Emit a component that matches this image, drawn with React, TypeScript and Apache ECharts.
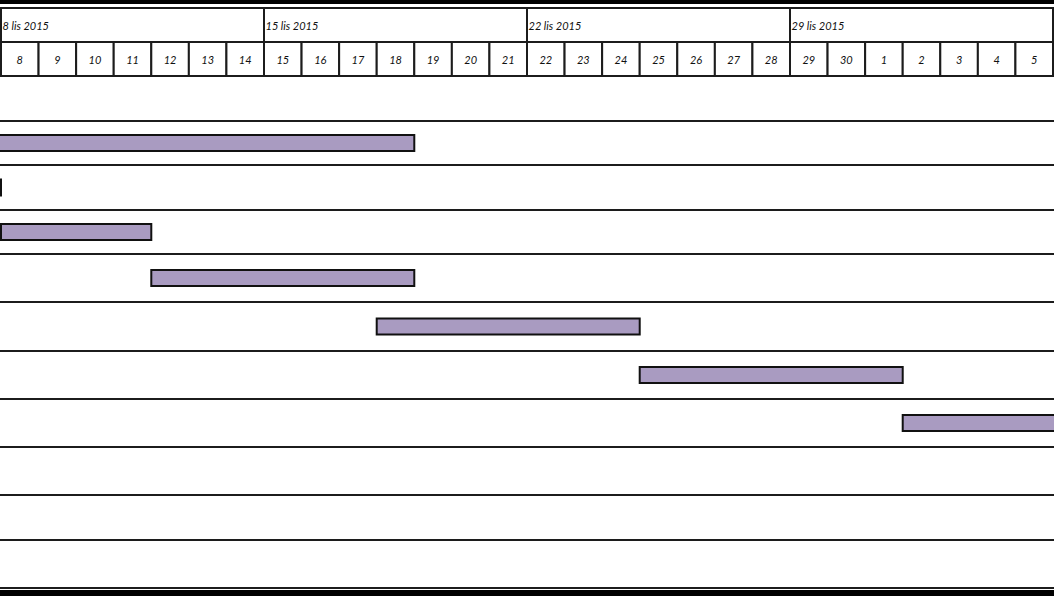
import React, { useEffect, useRef } from "react";
import * as echarts from "echarts";

// ---- data ----
const rangeStartDate = "2015-11-08";
const rangeEndDate = "2015-12-06";
const weekStarts = ["2015-11-08", "2015-11-15", "2015-11-22", "2015-11-29"];
const weekLabels = ["8 lis 2015", "15 lis 2015", "22 lis 2015", "29 lis 2015"];
const dayLabels = [
  "8", "9", "10", "11", "12", "13", "14",
  "15", "16", "17", "18", "19", "20", "21",
  "22", "23", "24", "25", "26", "27", "28",
  "29", "30", "1", "2", "3", "4", "5",
];
const taskRows = [1, 2, 3, 4, 5, 6, 7];
const taskStarts = ["2015-10-30", "2015-11-01", "2015-11-08", "2015-11-12", "2015-11-18", "2015-11-25", "2015-12-02"];
const taskEnds = ["2015-11-19", "2015-11-08", "2015-11-12", "2015-11-19", "2015-11-25", "2015-12-02", "2015-12-09"];

// ---- layout (relative row heights) ----
const ROW_HEIGHTS = [45, 44, 45, 44, 48, 49, 48, 48, 48, 45, 48];

const DAY = 86400000;
const parseDay = (s: string) => {
  const [y, m, d] = s.split("-").map(Number);
  return new Date(y, m - 1, d).getTime();
};

export default function App() {
  const ref = useRef<HTMLDivElement>(null);
  useEffect(() => {
    if (!ref.current) return;
    const chart = echarts.init(ref.current, undefined, { renderer: "svg" });
    const t0 = parseDay(rangeStartDate);
    const t1 = parseDay(rangeEndDate);
    const cum: number[] = [0];
    ROW_HEIGHTS.forEach((h) => cum.push(cum[cum.length - 1] + h));
    const total = cum[cum.length - 1];
    const font = { fontFamily: "Lato", fontStyle: "italic", fontSize: 11, fill: "#111" };
    const lineColor = "#1c1c1c";
    const W = 1054;

    const xAx = (g: number) => ({ type: "time", gridIndex: g, min: t0, max: t1, show: false });

    const option: any = {
      animation: false,
      backgroundColor: "#fff",
      grid: [
        { left: 1, top: 8, width: 1052, height: 34 },
        { left: 1, top: 42, width: 1052, height: 34 },
        { left: 1, top: 76, width: 1052, height: total },
      ],
      xAxis: [xAx(0), xAx(1), xAx(2)],
      yAxis: [
        { type: "value", gridIndex: 0, min: 0, max: 1, show: false },
        { type: "value", gridIndex: 1, min: 0, max: 1, show: false },
        { type: "value", gridIndex: 2, min: 0, max: total, inverse: true, show: false },
      ],
      graphic: [
        { type: "rect", shape: { x: 0, y: 0, width: W, height: 4 }, style: { fill: "#000" } },
        { type: "rect", shape: { x: 0, y: 590, width: W, height: 6 }, style: { fill: "#000" } },
      ],
      series: [
        {
          type: "custom",
          xAxisIndex: 0,
          yAxisIndex: 0,
          clip: false,
          encode: { x: [0, 1], y: 2 },
          data: weekStarts.map((s, i) => [parseDay(s), Math.min(parseDay(s) + 7 * DAY, t1), i]),
          renderItem: (params: any, api: any) => {
            const cs = params.coordSys;
            const x0 = api.coord([api.value(0), 0])[0];
            const x1 = api.coord([api.value(1), 0])[0];
            const idx = api.value(2);
            return {
              type: "group",
              children: [
                { type: "rect", shape: { x: x0, y: cs.y, width: x1 - x0, height: cs.height }, style: { fill: "#fff", stroke: lineColor, lineWidth: 2 } },
                { type: "text", x: x0 + 1.5, y: cs.y + cs.height / 2 + 0.5, style: { text: weekLabels[idx], align: "left", verticalAlign: "middle", ...font } },
              ],
            };
          },
        },
        {
          type: "custom",
          xAxisIndex: 1,
          yAxisIndex: 1,
          clip: false,
          encode: { x: [0, 1], y: 2 },
          data: dayLabels.map((_, i) => [t0 + i * DAY, t0 + (i + 1) * DAY, i]),
          renderItem: (params: any, api: any) => {
            const cs = params.coordSys;
            const x0 = api.coord([api.value(0), 0])[0];
            const x1 = api.coord([api.value(1), 0])[0];
            const idx = api.value(2);
            return {
              type: "group",
              children: [
                { type: "rect", shape: { x: x0, y: cs.y, width: x1 - x0, height: cs.height }, style: { fill: "#fff", stroke: lineColor, lineWidth: 2 } },
                { type: "text", x: (x0 + x1) / 2, y: cs.y + cs.height / 2, style: { text: dayLabels[idx], align: "center", verticalAlign: "middle", ...font } },
              ],
            };
          },
        },
        {
          type: "custom",
          xAxisIndex: 2,
          yAxisIndex: 2,
          clip: false,
          encode: { x: 0, y: 1 },
          data: ROW_HEIGHTS.map((_, i) => [t0, i]),
          renderItem: (params: any, api: any) => {
            const row = api.value(1);
            const y = api.coord([t0, cum[row + 1]])[1];
            return {
              type: "line",
              shape: { x1: 0, y1: y, x2: W, y2: y },
              style: { stroke: lineColor, lineWidth: 2 },
            };
          },
        },
        {
          type: "custom",
          xAxisIndex: 2,
          yAxisIndex: 2,
          clip: false,
          encode: { x: [0, 1], y: 2 },
          data: taskRows.map((r, i) => [parseDay(taskStarts[i]), parseDay(taskEnds[i]), r]),
          renderItem: (params: any, api: any) => {
            const row = api.value(2);
            const mid = (cum[row] + cum[row + 1]) / 2;
            const p0 = api.coord([api.value(0), mid]);
            const p1 = api.coord([api.value(1), mid]);
            const x0 = Math.max(p0[0], -3);
            const x1 = Math.min(p1[0], W + 3);
            const h = 16;
            return {
              type: "rect",
              shape: { x: x0, y: p0[1] - h / 2, width: x1 - x0, height: h },
              style: { fill: "#a99bc1", stroke: "#111", lineWidth: 2 },
            };
          },
        },
      ],
    };
    chart.setOption(option);
    return () => chart.dispose();
  }, []);
  return (
    <div
      ref={ref}
      style={{ position: "fixed", left: 0, top: 0, width: 1054, height: 596, background: "#fff" }}
    />
  );
}
